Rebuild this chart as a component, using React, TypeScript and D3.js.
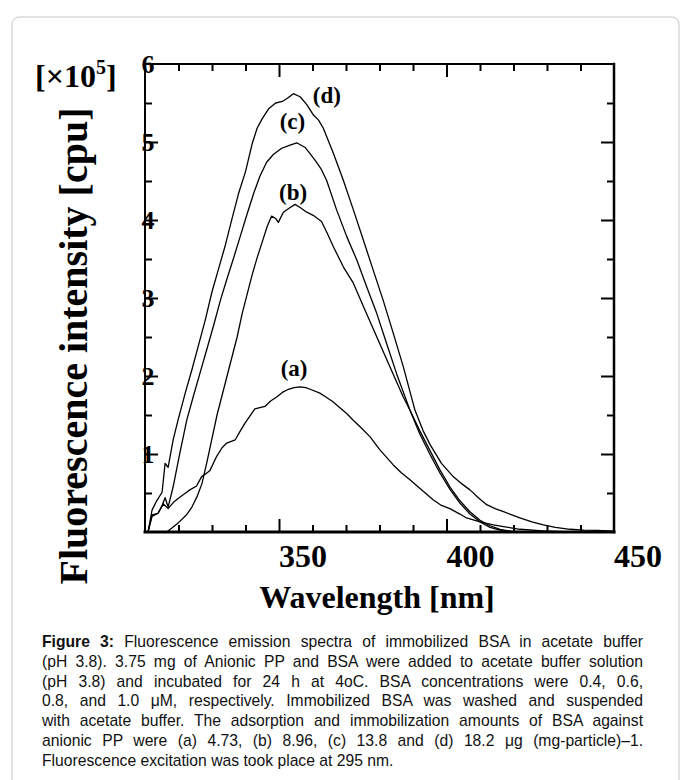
import React, { useEffect, useRef } from 'react';
import * as d3 from 'd3';

// wavelength [nm], fluorescence intensity [x10^5 cpu]
const curveA: [number, number][] = [
  [310.9, 0], [312.1, 0.2], [313.9, 0.24], [315.5, 0.36], [316.9, 0.3], [318.5, 0.38], [319.9, 0.43],
  [321.5, 0.48], [323.4, 0.54], [325.4, 0.59], [326.9, 0.71], [328.0, 0.74], [329.4, 0.79], [331.4, 0.97],
  [333.0, 1.08], [334.4, 1.14], [336.9, 1.18], [338.5, 1.3], [339.9, 1.4], [342.8, 1.58], [345.8, 1.61],
  [347.5, 1.68], [349.3, 1.73], [351.0, 1.79], [352.8, 1.83], [354.5, 1.85], [356.3, 1.86], [358.0, 1.85],
  [359.3, 1.83], [362.2, 1.78], [364.0, 1.73], [366.1, 1.67], [368.0, 1.6], [370.2, 1.52], [372.0, 1.44],
  [374.2, 1.35], [377.2, 1.22], [380.0, 1.06], [384.1, 0.86], [386.5, 0.76], [389.1, 0.67], [392.0, 0.56],
  [396.1, 0.41], [398.5, 0.34], [401.0, 0.3], [404.0, 0.23], [406.0, 0.18], [410.0, 0.13], [414.0, 0.09],
  [417.0, 0.07], [421.9, 0.035], [428.8, 0.015], [436.0, 0], [450.0, 0],
];

const curveB: [number, number][] = [
  [316.5, 0], [318.0, 0.05], [320.0, 0.12], [322.4, 0.22], [324.0, 0.32], [325.5, 0.45], [327.0, 0.62],
  [328.5, 0.9], [330.0, 1.2], [331.5, 1.5], [333.0, 1.75], [334.5, 2.0], [336.0, 2.25], [337.5, 2.5],
  [339.0, 2.8], [340.5, 3.05], [342.0, 3.3], [343.5, 3.52], [345.0, 3.72], [346.5, 3.92], [347.8, 4.05],
  [349.0, 4.02], [349.8, 3.97], [351.3, 4.1], [353.0, 4.15], [354.8, 4.2], [356.3, 4.16], [358.3, 4.1],
  [360.2, 4.06], [362.7, 3.98], [364.5, 3.82], [366.2, 3.66], [369.2, 3.4], [372.2, 3.19], [375.2, 2.89],
  [379.2, 2.5], [383.1, 2.12], [387.1, 1.73], [389.1, 1.56], [392.0, 1.3], [395.0, 1.05], [398.0, 0.8],
  [401.0, 0.58], [404.0, 0.4], [407.0, 0.26], [410.0, 0.15], [413.0, 0.08], [416.0, 0.035], [419.0, 0.012],
  [423.0, 0], [450.0, 0],
];

const curveC: [number, number][] = [
  [310.9, 0], [312.1, 0.22], [313.9, 0.24], [315.2, 0.35], [316.0, 0.44], [316.9, 0.32], [318.4, 0.58],
  [320.4, 1.01], [322.5, 1.44], [324.5, 1.75], [326.5, 2.05], [328.5, 2.35], [330.5, 2.65], [332.5, 2.97],
  [334.5, 3.25], [336.5, 3.52], [338.5, 3.8], [340.5, 4.08], [342.5, 4.35], [344.3, 4.56], [346.3, 4.74],
  [348.3, 4.84], [350.8, 4.92], [353.3, 4.96], [355.3, 4.99], [357.8, 4.93], [360.7, 4.77], [362.5, 4.66],
  [364.2, 4.51], [367.2, 4.13], [370.2, 3.79], [373.2, 3.49], [376.2, 3.14], [379.2, 2.8], [382.1, 2.42],
  [385.1, 2.03], [389.1, 1.56], [392.0, 1.26], [395.0, 1.0], [398.0, 0.76], [401.0, 0.55], [404.0, 0.37],
  [407.0, 0.23], [410.0, 0.13], [413.0, 0.06], [416.0, 0.025], [419.0, 0.008], [423.0, 0], [450.0, 0],
];

const curveD: [number, number][] = [
  [310.9, 0], [312.1, 0.28], [313.5, 0.4], [315.1, 0.51], [316.0, 0.88], [316.9, 0.83], [318.4, 1.18],
  [319.9, 1.44], [322.0, 1.78], [324.0, 2.08], [326.0, 2.4], [328.0, 2.72], [330.0, 3.08], [332.0, 3.38],
  [334.0, 3.68], [336.0, 4.02], [338.0, 4.35], [340.0, 4.62], [342.0, 4.98], [343.5, 5.18], [345.0, 5.3],
  [347.0, 5.43], [349.0, 5.5], [351.0, 5.52], [352.5, 5.56], [354.3, 5.62], [356.3, 5.58], [358.3, 5.48],
  [360.2, 5.35], [361.8, 5.28], [363.2, 5.18], [366.2, 4.86], [369.2, 4.51], [372.2, 4.13], [375.2, 3.74],
  [378.1, 3.36], [381.1, 2.97], [384.1, 2.55], [387.1, 2.12], [390.6, 1.56], [393.0, 1.3], [395.1, 1.12],
  [398.5, 0.88], [402.0, 0.71], [404.5, 0.62], [407.0, 0.54], [409.5, 0.44], [412.0, 0.35], [414.5, 0.3],
  [417.0, 0.26], [419.5, 0.22], [421.9, 0.18], [425.5, 0.13], [428.9, 0.09], [432.5, 0.06], [436.9, 0.035],
  [441.0, 0.025], [445.0, 0.02], [450.0, 0.012],
];

const curveLabels = ['(a)', '(b)', '(c)', '(d)'];
// where each label sits, in data units [nm, intensity]
const labelAnchors: [number, number][] = [[354.5, 2.0], [354.2, 4.26], [354.0, 5.17], [364.3, 5.5]];

const xTickLabels = [350, 400, 450];
const yTickLabels = [1, 2, 3, 4, 5, 6];

const captionBold = 'Figure 3:';
const captionLines = [
  ' Fluorescence emission spectra of immobilized BSA in acetate buffer',
  '(pH 3.8). 3.75 mg of Anionic PP and BSA were added to acetate buffer solution',
  '(pH 3.8) and incubated for 24 h at 4oC. BSA concentrations were 0.4, 0.6,',
  '0.8, and 1.0 μM, respectively. Immobilized BSA was washed and suspended',
  'with acetate buffer. The adsorption and immobilization amounts of BSA against',
  'anionic PP were (a) 4.73, (b) 8.96, (c) 13.8 and (d) 18.2 μg (mg-particle)–1.',
  'Fluorescence excitation was took place at 295 nm.',
];

const SERIF = "'Liberation Serif', 'Times New Roman', serif";
const SANS = "'Liberation Sans', Arial, sans-serif";

const App = () => {
  const svgRef = useRef<SVGSVGElement>(null);

  useEffect(() => {
    const svg = d3.select(svgRef.current);
    svg.selectAll('*').remove();

    const left = 145, right = 614, top = 64, bottom = 532;
    const x = d3.scaleLinear().domain([310, 450]).range([left, right]);
    const y = d3.scaleLinear().domain([0, 6]).range([bottom, top]);

    // card outline
    svg.append('rect')
      .attr('x', 12).attr('y', 17).attr('width', 667).attr('height', 800)
      .attr('rx', 7).attr('fill', '#fff').attr('stroke', '#c4c4c4').attr('stroke-width', 1);

    // inward ticks on all four sides
    const minorX = d3.range(320, 450, 10).filter(v => v % 50 !== 0);
    const majorX = [350, 400];
    const minorY = d3.range(0.5, 6, 1);
    const majorY = d3.range(1, 6, 1);

    const addTicks = (axis, transform, values, size) => {
      const g = svg.append('g')
        .attr('transform', transform)
        .call(axis.tickValues(values).tickSize(-size).tickSizeOuter(0).tickFormat(() => ''));
      g.select('.domain').remove();
      g.selectAll('line').attr('stroke', '#000').attr('stroke-width', 2);
    };
    addTicks(d3.axisBottom(x), `translate(0,${bottom})`, minorX, 7);
    addTicks(d3.axisBottom(x), `translate(0,${bottom})`, majorX, 13);
    addTicks(d3.axisTop(x), `translate(0,${top})`, minorX, 7);
    addTicks(d3.axisTop(x), `translate(0,${top})`, majorX, 13);
    addTicks(d3.axisLeft(y), `translate(${left},0)`, minorY, 7);
    addTicks(d3.axisLeft(y), `translate(${left},0)`, majorY, 13);
    addTicks(d3.axisRight(y), `translate(${right},0)`, minorY, 7);
    addTicks(d3.axisRight(y), `translate(${right},0)`, majorY, 13);

    // frame
    const frame = svg.append('g').attr('stroke', '#000').attr('stroke-linecap', 'square');
    frame.append('line').attr('x1', left).attr('x2', right).attr('y1', top).attr('y2', top).attr('stroke-width', 2);
    frame.append('line').attr('x1', left).attr('x2', right).attr('y1', bottom).attr('y2', bottom).attr('stroke-width', 3);
    frame.append('line').attr('x1', left).attr('x2', left).attr('y1', top).attr('y2', bottom).attr('stroke-width', 2);
    frame.append('line').attr('x1', right).attr('x2', right).attr('y1', top).attr('y2', bottom).attr('stroke-width', 2.5);

    // spectra
    const line = d3.line<[number, number]>().x(d => x(d[0])).y(d => y(d[1]));
    [curveA, curveB, curveC, curveD].forEach(pts => {
      svg.append('path')
        .datum(pts)
        .attr('d', line)
        .attr('fill', 'none')
        .attr('stroke', '#000')
        .attr('stroke-width', 1.3)
        .attr('stroke-linejoin', 'round');
    });

    curveLabels.forEach((lab, i) => {
      svg.append('text')
        .attr('x', x(labelAnchors[i][0]))
        .attr('y', y(labelAnchors[i][1]))
        .attr('text-anchor', 'middle')
        .style('font-family', SERIF).style('font-weight', 'bold').style('font-size', '23px')
        .text(lab);
    });

    // tick labels (they sit across the axis / start at the tick, as in the figure)
    yTickLabels.forEach(v => {
      svg.append('text')
        .attr('x', left + 3)
        .attr('y', y(v) + 9)
        .attr('text-anchor', 'middle')
        .style('font-family', SERIF).style('font-weight', 'bold').style('font-size', '26px')
        .text(v);
    });
    xTickLabels.forEach(v => {
      svg.append('text')
        .attr('x', x(v))
        .attr('y', 567)
        .attr('text-anchor', 'start')
        .style('font-family', SERIF).style('font-weight', 'bold').style('font-size', '32px')
        .text(v);
    });

    // axis titles
    svg.append('text')
      .attr('x', 377).attr('y', 608)
      .attr('text-anchor', 'middle')
      .style('font-family', SERIF).style('font-weight', 'bold').style('font-size', '32px')
      .text('Wavelength [nm]');

    svg.append('text')
      .attr('transform', 'translate(87,346) rotate(-90)')
      .attr('text-anchor', 'middle')
      .style('font-family', SERIF).style('font-weight', 'bold').style('font-size', '40px')
      .text('Fluorescence intensity [cpu]');

    const unit = svg.append('text')
      .attr('x', 35).attr('y', 87)
      .style('font-family', SERIF).style('font-weight', 'bold').style('font-size', '32px');
    unit.append('tspan').text('[×10');
    unit.append('tspan').attr('dy', -13).style('font-size', '20px').text('5');
    unit.append('tspan').attr('dy', 13).text(']');

    // caption, justified
    const capX0 = 42, capX1 = 643, base0 = 647, pitch = 19.8;
    captionLines.forEach((txt, i) => {
      const t = svg.append('text')
        .attr('x', capX0).attr('y', base0 + i * pitch)
        .style('font-family', SANS).style('font-size', '15.7px').attr('fill', '#111');
      if (i === 0) t.append('tspan').style('font-weight', 'bold').text(captionBold);
      t.append('tspan').text(txt);
      if (i < captionLines.length - 1) {
        const w = (t.node() as SVGTextElement).getComputedTextLength();
        const full = (i === 0 ? captionBold : '') + txt;
        const spaces = full.split(' ').length - 1;
        t.attr('word-spacing', (capX1 - capX0 - w) / spaces);
      }
    });
  }, []);

  return (
    <svg
      ref={svgRef}
      width={685}
      height={780}
      style={{ position: 'absolute', left: 0, top: 0, background: '#fff' }}
    />
  );
};

export default App;
